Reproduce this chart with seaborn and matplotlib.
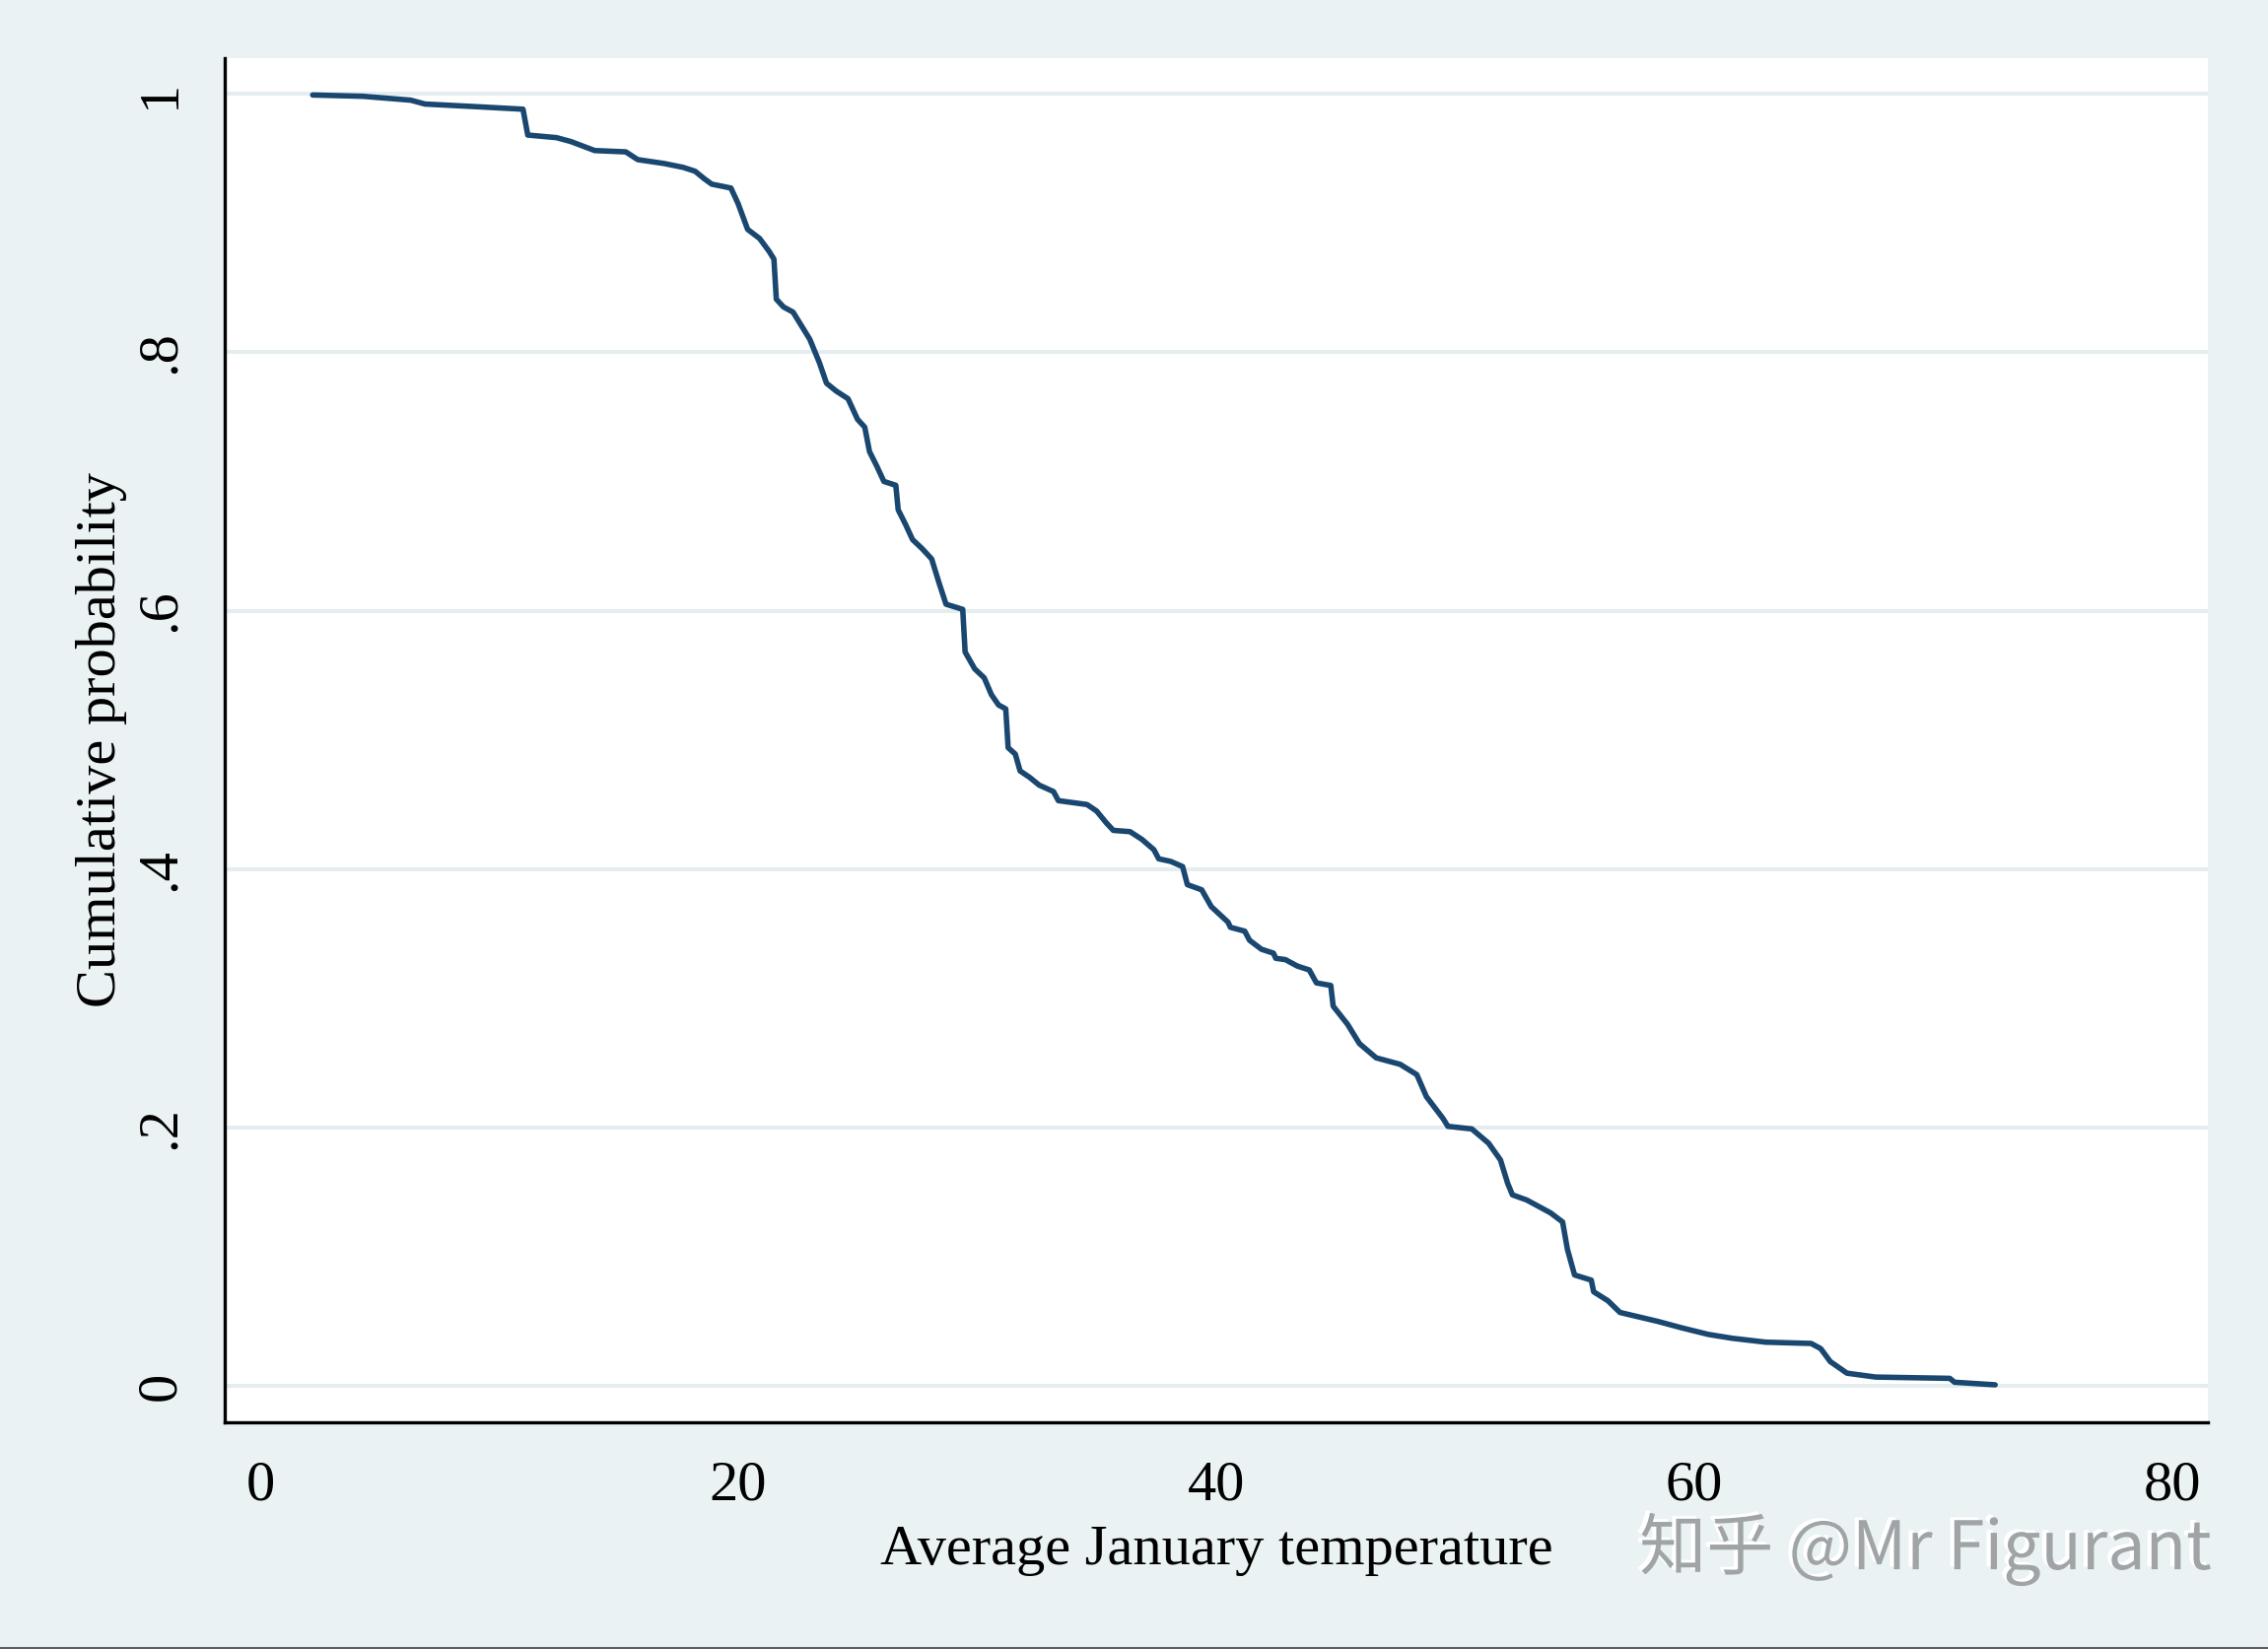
import numpy as np
import pandas as pd
import matplotlib
matplotlib.use("Agg")
import matplotlib.pyplot as plt
import matplotlib.patheffects as pe
from matplotlib.lines import Line2D
import seaborn as sns

# --- data: points ---
temp_jan = [2.2, 4.3, 6.3, 6.9, 9.0, 11.0, 11.2, 12.4, 13.0, 14.0, 15.3, 15.8,
            16.9, 17.7, 18.2, 18.6, 18.9, 19.7, 20.0, 20.2, 20.4, 20.9, 21.3,
            21.5, 21.6, 21.9, 22.3, 22.6, 23.0, 23.4, 23.7, 24.1, 24.6, 25.0,
            25.3, 25.5, 25.8, 26.1, 26.6, 26.7, 27.0, 27.3, 27.7, 28.1, 28.4,
            28.7, 29.4, 29.5, 29.9, 30.3, 30.6, 30.9, 31.2, 31.3, 31.6, 31.8,
            32.2, 32.6, 33.2, 33.4, 34.6, 35.0, 35.4, 35.7, 36.4, 36.9, 37.4,
            37.6, 38.1, 38.6, 38.8, 39.4, 39.8, 40.5, 40.6, 41.2, 41.4, 41.9,
            42.4, 42.5, 42.9, 43.4, 43.9, 44.2, 44.8, 44.9, 45.5, 46.0, 46.7,
            47.7, 48.4, 48.8, 49.5, 49.7, 50.7, 51.4, 51.9, 52.2, 52.4, 53.0,
            54.0, 54.5, 54.7, 55.0, 55.7, 55.8, 56.4, 56.9, 58.5, 59.5, 60.6,
            61.6, 63.0, 64.9, 65.3, 65.7, 66.4, 67.6, 70.7, 70.9, 72.6]
cum_prob = [0.999, 0.998, 0.995, 0.992, 0.990, 0.988, 0.968, 0.966, 0.963,
            0.956, 0.955, 0.949, 0.946, 0.943, 0.940, 0.934, 0.930, 0.927,
            0.915, 0.905, 0.895, 0.888, 0.878, 0.872, 0.841, 0.835, 0.831,
            0.822, 0.810, 0.792, 0.776, 0.770, 0.764, 0.748, 0.742, 0.723,
            0.712, 0.700, 0.697, 0.678, 0.667, 0.655, 0.648, 0.640, 0.622,
            0.605, 0.601, 0.568, 0.555, 0.548, 0.535, 0.527, 0.524, 0.494,
            0.489, 0.476, 0.471, 0.465, 0.460, 0.453, 0.450, 0.445, 0.436,
            0.430, 0.429, 0.423, 0.415, 0.408, 0.406, 0.402, 0.388, 0.384,
            0.371, 0.359, 0.355, 0.352, 0.345, 0.338, 0.335, 0.331, 0.330,
            0.325, 0.322, 0.312, 0.310, 0.294, 0.280, 0.265, 0.254, 0.249,
            0.241, 0.224, 0.207, 0.201, 0.199, 0.188, 0.175, 0.157, 0.148,
            0.144, 0.134, 0.127, 0.106, 0.086, 0.082, 0.073, 0.066, 0.057,
            0.050, 0.045, 0.040, 0.037, 0.034, 0.033, 0.029, 0.019, 0.010,
            0.007, 0.006, 0.003, 0.001]

x_ticks = [0, 20, 40, 60, 80]
y_ticks = [0, 0.2, 0.4, 0.6, 0.8, 1]
y_ticklabels = ["0", ".2", ".4", ".6", ".8", "1"]

df = pd.DataFrame({"tempjan": temp_jan, "cum": cum_prob})

# --- style (Stata s2color look) ---
bg = "#EAF2F3"
navy = "#1A476F"
sns.set_style("white")
plt.rcParams["font.family"] = ["Liberation Serif", "DejaVu Serif"]
for key in ["text.color", "axes.labelcolor", "xtick.color", "ytick.color"]:
    plt.rcParams[key] = "black"

fig = plt.figure(figsize=(23.01, 16.73), dpi=100, facecolor=bg)
ax = fig.add_axes([228 / 2301, 1 - 1443 / 1673, 2012 / 2301, 1384 / 1673])
ax.set_facecolor("white")

for yv in y_ticks:
    ax.axhline(yv, color="#E4EDF0", lw=2.8, zorder=0)

sns.lineplot(data=df, x="tempjan", y="cum", ax=ax, color=navy, linewidth=4.0,
             estimator=None, sort=True)

ax.set_xlim(-1.48, 81.5)
ax.set_ylim(-0.028, 1.0275)
ax.set_xticks(x_ticks)
ax.set_xticklabels([str(v) for v in x_ticks], fontsize=42)
ax.set_yticks(y_ticks)
ax.set_yticklabels(y_ticklabels, fontsize=42, rotation=90, va="center")
ax.tick_params(axis="both", length=16, width=2.2, color="black", direction="out")
ax.tick_params(axis="x", pad=12)
ax.tick_params(axis="y", pad=12)

for side in ["top", "right"]:
    ax.spines[side].set_visible(False)
for side in ["left", "bottom"]:
    ax.spines[side].set_color("black")
    ax.spines[side].set_linewidth(2.4)

ax.set_xlabel("Average January temperature", fontsize=42, va="center")
ax.xaxis.set_label_coords(0.5, -0.094)
ax.set_ylabel("Cumulative probability", fontsize=42, va="center")
ax.yaxis.set_label_coords(-0.062, 0.5)

# watermark
fig.text(2244 / 2301, 1 - 1572 / 1673, "知乎 @Mr Figurant", fontsize=49,
         family=["Noto Sans CJK SC", "DejaVu Sans"], color="#A0A4A7",
         ha="right", va="center",
         path_effects=[pe.withSimplePatchShadow(offset=(-3, 2),
                                                shadow_rgbFace="white", alpha=1)])

# thin frame line at the image bottom
fig.add_artist(Line2D([0, 1], [0.0008, 0.0008], transform=fig.transFigure,
                      color="#5A5F63", lw=1.5))

fig.savefig("out.png", dpi=100, facecolor=bg)
